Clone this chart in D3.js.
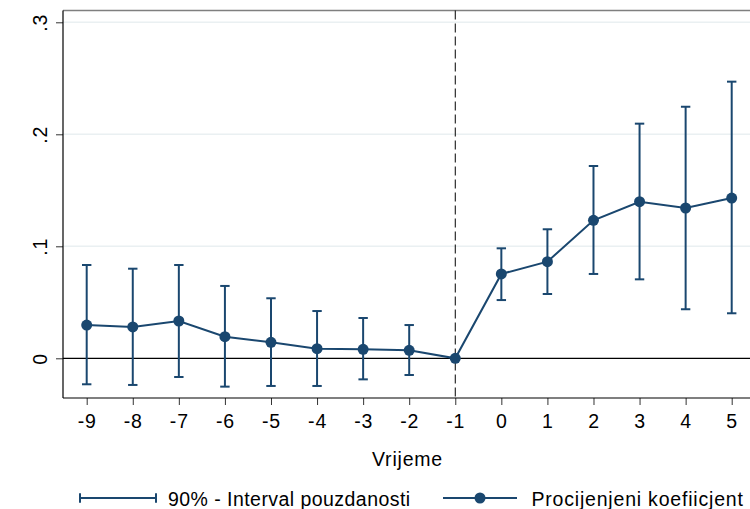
<!DOCTYPE html>
<html><head><meta charset="utf-8">
<script src="https://cdn.jsdelivr.net/npm/d3@7"></script>
<style>body{margin:0;background:#fff}svg{display:block}text{font-family:"Liberation Sans",Arial,sans-serif;fill:#000;letter-spacing:0.8px}</style>
</head><body><svg id="c" width="750" height="509"></svg>
<script>
const periods = [-9,-8,-7,-6,-5,-4,-3,-2,-1,0,1,2,3,4,5];
const coef  = [0.0297,0.028,0.0333,0.0193,0.0143,0.0086,0.008,0.0071,0,0.0753,0.0863,0.1232,0.1398,0.1342,0.1431];
const upper = [0.0833,0.080,0.0833,0.0646,0.0536,0.0422,0.036,0.0297,0,0.0982,0.1152,0.1717,0.2095,0.2246,0.247];
const lower = [-0.0232,-0.0238,-0.0167,-0.0253,-0.0247,-0.0247,-0.0188,-0.0149,0,0.052,0.0574,0.0753,0.0705,0.0438,0.0402];
const yTicks = [0,0.1,0.2,0.3];
const yTickLabels = ["0",".1",".2",".3"];
const xTitle = "Vrijeme";
const legendLabels = ["90% - Interval pouzdanosti","Procijenjeni koefiicjent"];
const navy = "#1a476f";
const FS = 19.5;

const svg = d3.select("#c");
const L=63, R=750, T=10.5, B=398;
const x = d3.scaleLinear().domain([-9,5]).range([86.7,731.7]);
const y = d3.scaleLinear().domain([0,0.3]).range([358.3,22.3]);

// gridlines
svg.append("g").selectAll("line").data(yTicks.slice(1)).join("line")
  .attr("x1",L).attr("x2",R).attr("y1",d=>y(d)).attr("y2",d=>y(d))
  .attr("stroke","#eaf0f2").attr("stroke-width",1.5);
// top border
svg.append("line").attr("x1",L).attr("x2",R).attr("y1",T).attr("y2",T).attr("stroke","#7f7f7f").attr("stroke-width",1.5);

// y axis
const ya = svg.append("g").attr("transform",`translate(${L},0)`)
  .call(d3.axisLeft(y).tickValues(yTicks).tickSize(7).tickFormat((d,i)=>yTickLabels[i]));
ya.select(".domain").remove();
ya.append("line").attr("x1",0).attr("x2",0).attr("y1",T).attr("y2",B).attr("stroke","#000").attr("stroke-width",1.2);
ya.selectAll(".tick line").attr("stroke","#333");
ya.selectAll(".tick text").attr("font-size",FS).attr("fill","#000")
  .attr("text-anchor","middle").attr("x",0).attr("y",0).attr("dy",0)
  .attr("transform","translate(-16,0) rotate(-90)");

// x axis
const xa = svg.append("g").attr("transform",`translate(0,${B})`)
  .call(d3.axisBottom(x).tickValues(periods).tickSize(7).tickFormat(d3.format("d")));
xa.select(".domain").remove();
xa.append("line").attr("x1",L).attr("x2",R).attr("y1",0).attr("y2",0).attr("stroke","#000").attr("stroke-width",1.2);
xa.selectAll(".tick line").attr("stroke","#333");
xa.selectAll(".tick text").attr("font-size",FS).attr("fill","#000").attr("y",30.3).attr("dy",0)
  .text(d=>d<0?"-"+Math.abs(d):String(d));

svg.append("text").attr("x",(L+R)/2+1).attr("y",466).attr("text-anchor","middle").attr("font-size",FS).text(xTitle);

// zero line
svg.append("line").attr("x1",L).attr("x2",R).attr("y1",y(0)).attr("y2",y(0)).attr("stroke","#000").attr("stroke-width",1.2);
// dashed vline
svg.append("line").attr("x1",x(-1)).attr("x2",x(-1)).attr("y1",T).attr("y2",B)
  .attr("stroke","#000").attr("stroke-width",1).attr("stroke-dasharray","9,4");

// error bars
const data = periods.map((p,i)=>({p,c:coef[i],u:upper[i],l:lower[i]}));
const eb = svg.append("g").attr("stroke",navy).attr("stroke-width",2).attr("fill","none");
data.filter(d=>d.u!==d.l).forEach(d=>{
  eb.append("line").attr("x1",x(d.p)).attr("x2",x(d.p)).attr("y1",y(d.u)).attr("y2",y(d.l));
  eb.append("line").attr("x1",x(d.p)-4.7).attr("x2",x(d.p)+4.7).attr("y1",y(d.u)).attr("y2",y(d.u));
  eb.append("line").attr("x1",x(d.p)-4.7).attr("x2",x(d.p)+4.7).attr("y1",y(d.l)).attr("y2",y(d.l));
});
// line + points
svg.append("path").datum(data).attr("fill","none").attr("stroke",navy).attr("stroke-width",2)
  .attr("d",d3.line().x(d=>x(d.p)).y(d=>y(d.c)));
svg.append("g").selectAll("circle").data(data).join("circle")
  .attr("cx",d=>x(d.p)).attr("cy",d=>y(d.c)).attr("r",5.5).attr("fill",navy);

// legend
const ly = 498;
const lg = svg.append("g");
lg.append("line").attr("x1",80).attr("x2",156).attr("y1",ly).attr("y2",ly).attr("stroke",navy).attr("stroke-width",2);
[80,156].forEach(xx=>lg.append("line").attr("x1",xx).attr("x2",xx).attr("y1",ly-4.7).attr("y2",ly+4.7).attr("stroke",navy).attr("stroke-width",2));
lg.append("text").attr("x",168).attr("y",505.7).attr("font-size",FS).style("letter-spacing","0.45px").text(legendLabels[0]);
lg.append("line").attr("x1",443).attr("x2",517).attr("y1",ly).attr("y2",ly).attr("stroke",navy).attr("stroke-width",2);
lg.append("circle").attr("cx",480).attr("cy",ly).attr("r",5.5).attr("fill",navy);
lg.append("text").attr("x",531.5).attr("y",505.7).attr("font-size",FS).text(legendLabels[1]);
</script></body></html>
